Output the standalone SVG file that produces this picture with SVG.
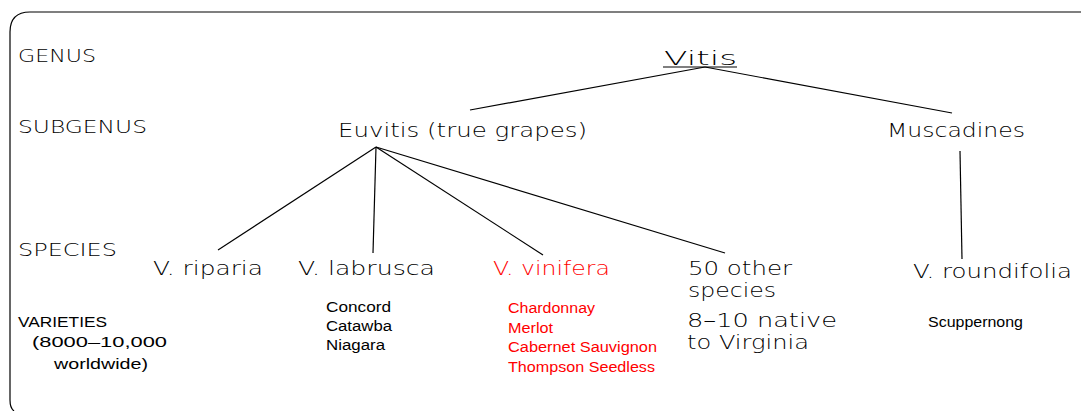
<svg xmlns="http://www.w3.org/2000/svg" width="1081" height="411" viewBox="0 0 1081 411">
<style>
.big{font-family:"DejaVu Sans","Liberation Sans",sans-serif;font-weight:200;font-size:20px;fill:#000}
.lbl{font-family:"DejaVu Sans","Liberation Sans",sans-serif;font-weight:200;font-size:18px;fill:#000}
.sm{font-family:"Liberation Sans",Arial,sans-serif;font-size:15.5px;fill:#000}
.red{fill:#ff0000}
.ln{stroke:#000;stroke-width:1.2;fill:none}
</style>
<rect width="1081" height="411" fill="#fff"/>
<path class="ln" d="M1081 12 H30 Q10 12 10 32 V400 Q10 408 14 411"/>
<g id="labels">
<text class="lbl" x="18" y="62" textLength="78" lengthAdjust="spacingAndGlyphs">GENUS</text>
<text class="lbl" x="18" y="133" textLength="129" lengthAdjust="spacingAndGlyphs">SUBGENUS</text>
<text class="lbl" x="18" y="256" textLength="99" lengthAdjust="spacingAndGlyphs">SPECIES</text>
<text class="sm" x="18" y="327" font-size="19" textLength="89" lengthAdjust="spacingAndGlyphs">VARIETIES</text>
<text class="sm" x="32" y="347" font-size="20" textLength="135" lengthAdjust="spacingAndGlyphs">(8000–10,000</text>
<text class="sm" x="54" y="369" font-size="19" textLength="94" lengthAdjust="spacingAndGlyphs">worldwide)</text>
</g>
<g id="connectors">
<line class="ln" x1="705" y1="67" x2="470" y2="110"/>
<line class="ln" x1="705" y1="67" x2="952" y2="113"/>
<line class="ln" x1="376" y1="147" x2="218" y2="250"/>
<line class="ln" x1="376" y1="147" x2="373" y2="253"/>
<line class="ln" x1="376" y1="147" x2="543" y2="255"/>
<line class="ln" x1="376" y1="147" x2="725" y2="253"/>
<line class="ln" x1="960" y1="151" x2="962" y2="259"/>
</g>
<g id="vitis">
<text class="big" x="664" y="65" font-size="27" textLength="73" lengthAdjust="spacingAndGlyphs">Vitis</text>
<line class="ln" x1="663" y1="67" x2="737" y2="67"/>
</g>
<g id="euvitis"><text class="big" x="338" y="137" textLength="249" lengthAdjust="spacingAndGlyphs">Euvitis (true grapes)</text></g>
<g id="muscadines"><text class="big" x="887" y="137" textLength="138" lengthAdjust="spacingAndGlyphs">Muscadines</text></g>
<g id="riparia"><text class="big" x="153" y="275" textLength="110" lengthAdjust="spacingAndGlyphs">V. riparia</text></g>
<g id="labrusca">
<text class="big" x="298" y="275" textLength="137" lengthAdjust="spacingAndGlyphs">V. labrusca</text>
<text class="sm" x="326" y="312" textLength="65" lengthAdjust="spacingAndGlyphs">Concord</text>
<text class="sm" x="326" y="331" textLength="66" lengthAdjust="spacingAndGlyphs">Catawba</text>
<text class="sm" x="326" y="350" textLength="59" lengthAdjust="spacingAndGlyphs">Niagara</text>
</g>
<g id="vinifera">
<text class="big red" x="493" y="275" textLength="117" lengthAdjust="spacingAndGlyphs">V. vinifera</text>
<text class="sm red" x="508" y="313" textLength="87" lengthAdjust="spacingAndGlyphs">Chardonnay</text>
<text class="sm red" x="508" y="333" textLength="45" lengthAdjust="spacingAndGlyphs">Merlot</text>
<text class="sm red" x="508" y="352" textLength="149" lengthAdjust="spacingAndGlyphs">Cabernet Sauvignon</text>
<text class="sm red" x="508" y="372" textLength="147" lengthAdjust="spacingAndGlyphs">Thompson Seedless</text>
</g>
<g id="other">
<text class="big" x="688" y="275" textLength="104" lengthAdjust="spacingAndGlyphs">50 other</text>
<text class="big" x="688" y="297" textLength="88" lengthAdjust="spacingAndGlyphs">species</text>
<text class="big" x="687" y="327" textLength="150" lengthAdjust="spacingAndGlyphs">8–10 native</text>
<text class="big" x="687" y="349" textLength="122" lengthAdjust="spacingAndGlyphs">to Virginia</text>
</g>
<g id="roundifolia">
<text class="big" x="913" y="278" textLength="159" lengthAdjust="spacingAndGlyphs">V. roundifolia</text>
<text class="sm" x="928" y="327" textLength="95" lengthAdjust="spacingAndGlyphs">Scuppernong</text>
</g>
</svg>
